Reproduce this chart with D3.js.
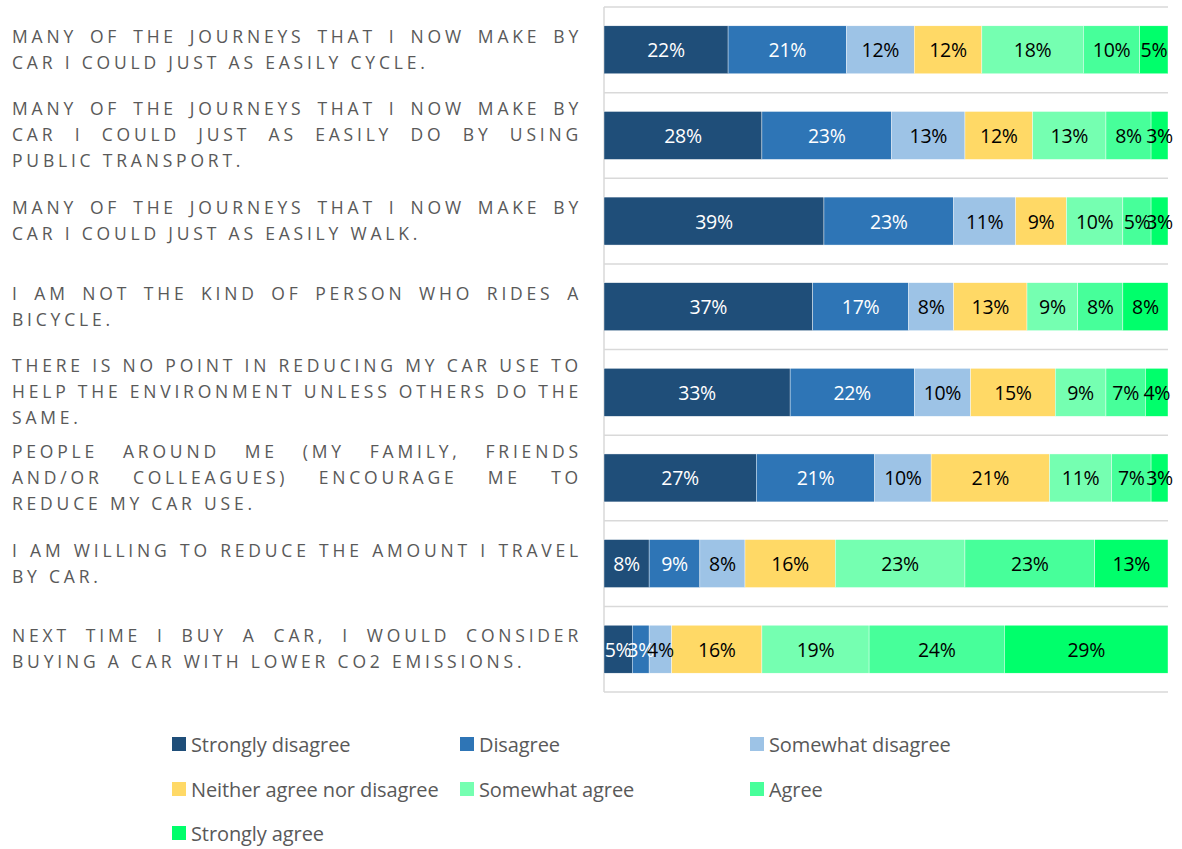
<!DOCTYPE html>
<html>
<head>
<meta charset="utf-8">
<script src="https://cdn.jsdelivr.net/npm/d3@7"></script>
<style>
  html, body { margin: 0; padding: 0; background: #fff; }
  svg { display: block; }
</style>
</head>
<body>
<svg id="chart" width="1182" height="849"></svg>
<script>
// Survey statements (line breaks mark where each statement wraps)
const categories = [
  "MANY OF THE JOURNEYS THAT I NOW MAKE BY\nCAR I COULD JUST AS EASILY CYCLE.",
  "MANY OF THE JOURNEYS THAT I NOW MAKE BY\nCAR I COULD JUST AS EASILY DO BY USING\nPUBLIC TRANSPORT.",
  "MANY OF THE JOURNEYS THAT I NOW MAKE BY\nCAR I COULD JUST AS EASILY WALK.",
  "I AM NOT THE KIND OF PERSON WHO RIDES A\nBICYCLE.",
  "THERE IS NO POINT IN REDUCING MY CAR USE TO\nHELP THE ENVIRONMENT UNLESS OTHERS DO THE\nSAME.",
  "PEOPLE AROUND ME (MY FAMILY, FRIENDS\nAND/OR COLLEAGUES) ENCOURAGE ME TO\nREDUCE MY CAR USE.",
  "I AM WILLING TO REDUCE THE AMOUNT I TRAVEL\nBY CAR.",
  "NEXT TIME I BUY A CAR, I WOULD CONSIDER\nBUYING A CAR WITH LOWER CO2 EMISSIONS."
];

const seriesNames = [
  "Strongly disagree", "Disagree", "Somewhat disagree",
  "Neither agree nor disagree", "Somewhat agree", "Agree", "Strongly agree"
];

// Percentage of respondents per answer, one array per answer, ordered as categories
const stronglyDisagree = [22, 28, 39, 37, 33, 27, 8, 5];
const disagree         = [21, 23, 23, 17, 22, 21, 9, 3];
const somewhatDisagree = [12, 13, 11, 8, 10, 10, 8, 4];
const neither          = [12, 12, 9, 13, 15, 21, 16, 16];
const somewhatAgree    = [18, 13, 10, 9, 9, 11, 23, 19];
const agree            = [10, 8, 5, 8, 7, 7, 23, 24];
const stronglyAgree    = [5, 3, 3, 8, 4, 3, 13, 29];

const seriesValues = [stronglyDisagree, disagree, somewhatDisagree, neither,
                      somewhatAgree, agree, stronglyAgree];

const colors = ["#1f4e79", "#2e75b6", "#9dc3e6", "#ffd966", "#75ffb1", "#47ff9a", "#00ff6b"];
const labelColors = ["#ffffff", "#ffffff", "#000000", "#000000", "#000000", "#000000", "#000000"];

// Table built from the arrays for d3.stack
const table = categories.map((c, i) => {
  const row = { category: c };
  seriesNames.forEach((s, j) => { row[s] = seriesValues[j][i]; });
  return row;
});

const svg = d3.select("#chart");
const plot = { left: 604, right: 1168, top: 7, bottom: 692 };

const x = d3.scaleLinear().domain([0, 100]).range([plot.left, plot.right]);
const y = d3.scaleBand()
  .domain(categories)
  .range([plot.top, plot.bottom])
  .paddingInner(0.44)
  .paddingOuter(0.22);

const step = y.step();

// Horizontal separators between statements
svg.append("g")
  .selectAll("line")
  .data(d3.range(categories.length + 1))
  .join("line")
  .attr("x1", plot.left).attr("x2", plot.right)
  .attr("y1", i => plot.top + i * step).attr("y2", i => plot.top + i * step)
  .attr("stroke", "#d9d9d9").attr("stroke-width", 1.5);

// Category axis line
svg.append("line")
  .attr("x1", plot.left).attr("x2", plot.left)
  .attr("y1", plot.top).attr("y2", plot.bottom)
  .attr("stroke", "#d9d9d9").attr("stroke-width", 1.5);

const stacked = d3.stack().keys(seriesNames)(table);

const layers = svg.append("g")
  .selectAll("g")
  .data(stacked)
  .join("g")
  .attr("fill", (d, i) => colors[i]);

layers.selectAll("rect")
  .data(d => d)
  .join("rect")
  .attr("x", d => x(d[0]))
  .attr("y", d => y(d.data.category))
  .attr("width", d => x(d[1]) - x(d[0]))
  .attr("height", y.bandwidth())
  .attr("stroke", "#ffffff")
  .attr("stroke-width", 0.4);

// Value labels centred in each segment
const labelLayers = svg.append("g")
  .selectAll("g")
  .data(stacked)
  .join("g")
  .attr("fill", (d, i) => labelColors[i]);

labelLayers.selectAll("text")
  .data(d => d)
  .join("text")
  .attr("x", d => (x(d[0]) + x(d[1])) / 2)
  .attr("y", d => y(d.data.category) + y.bandwidth() / 2)
  .attr("text-anchor", "middle")
  .attr("dominant-baseline", "central")
  .style("font-family", "'Open Sans', sans-serif")
  .style("font-size", "19.5px")
  .style("letter-spacing", "-0.3px")
  .text(d => `${d[1] - d[0]}%`);

// Statement labels: justified, uppercase, widely tracked
const labelLeft = 12, labelWidth = 570, lineHeight = 26;
const catFont = "'Open Sans', sans-serif";
const catSize = 17.5;
const catTracking = 3.8;

const measure = svg.append("text")
  .style("font-family", catFont)
  .style("font-size", catSize + "px")
  .style("letter-spacing", catTracking + "px")
  .attr("visibility", "hidden");
function wordWidth(w) {
  measure.text(w);
  return measure.node().getComputedTextLength();
}
const spaceWidth = (() => {
  measure.text("A A");
  const a = measure.node().getComputedTextLength();
  measure.text("AA");
  return a - measure.node().getComputedTextLength();
})();

const catGroup = svg.append("g")
  .attr("fill", "#595959")
  .style("font-family", catFont)
  .style("font-size", catSize + "px")
  .style("letter-spacing", catTracking + "px");

categories.forEach(cat => {
  const lines = cat.split("\n");
  const cy = y(cat) + y.bandwidth() / 2 - 1;
  const y0 = cy - (lines.length - 1) * lineHeight / 2;
  lines.forEach((line, li) => {
    const words = line.split(" ");
    const widths = words.map(wordWidth);
    const last = li === lines.length - 1;
    const total = d3.sum(widths);
    const gap = (!last && words.length > 1)
      ? (labelWidth - total) / (words.length - 1)
      : spaceWidth;
    let cx = labelLeft;
    words.forEach((w, wi) => {
      catGroup.append("text")
        .attr("x", cx)
        .attr("y", y0 + li * lineHeight)
        .attr("dominant-baseline", "central")
        .text(w);
      cx += widths[wi] + gap;
    });
  });
});
measure.remove();

// Legend in three columns
const legendCols = [172, 460, 750];
const legendRows = [744, 789, 833];
const legend = svg.append("g")
  .selectAll("g")
  .data(seriesNames)
  .join("g")
  .attr("transform", (d, i) => `translate(${legendCols[i % 3]},${legendRows[Math.floor(i / 3)]})`);

legend.append("rect")
  .attr("x", 0).attr("y", -7)
  .attr("width", 14).attr("height", 14)
  .attr("fill", (d, i) => colors[i]);

legend.append("text")
  .attr("x", 19)
  .attr("y", 0)
  .attr("dominant-baseline", "central")
  .attr("fill", "#595959")
  .style("font-family", "'Open Sans', sans-serif")
  .style("font-size", "20px")
  .style("letter-spacing", "-0.1px")
  .text(d => d);
</script>
</body>
</html>
